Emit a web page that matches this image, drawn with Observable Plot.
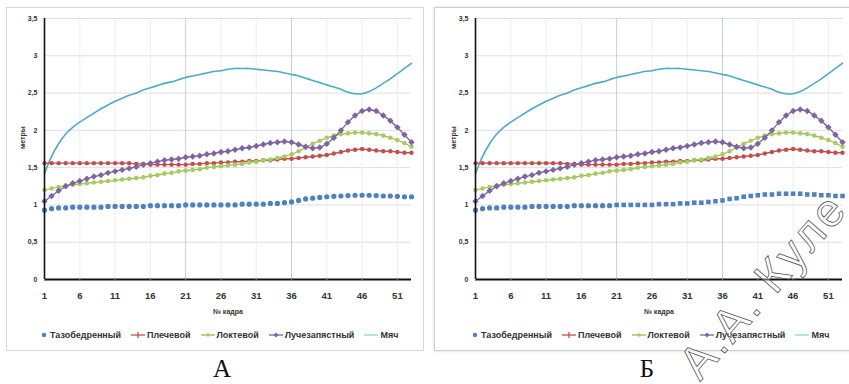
<!DOCTYPE html>
<html><head><meta charset="utf-8">
<script src="https://cdn.jsdelivr.net/npm/d3@7"></script>
<script src="https://cdn.jsdelivr.net/npm/@observablehq/plot@0.6"></script>
<style>
html,body{margin:0;padding:0;background:#fff;}
#wrap{position:relative;width:849px;height:384px;overflow:hidden;background:#fff;font-family:"Liberation Sans Narrow","Liberation Sans",Arial,sans-serif;}
.panel{position:absolute;top:8px;width:416px;height:342px;}
#pA{left:7px;outline:1px solid #d6d6d6;}
#pB{left:435px;outline:1px solid #cfcfcf;box-shadow:0 0 3px 1px #d8d8d8;}
.panel svg{position:absolute;left:0;top:0;}
.legend{position:absolute;top:322px;left:0;display:flex;align-items:center;font-size:9px;font-weight:bold;color:#333;white-space:nowrap;}
.legend .it{display:flex;align-items:center;margin-right:10px;}
.legend svg{position:static;margin-right:2px;}
.cap{position:absolute;top:355px;font-family:"Liberation Serif","DejaVu Serif",serif;font-size:25px;color:#111;transform:translateX(-50%);}
#wm{position:absolute;left:0;top:0;}
</style></head>
<body><div id="wrap">
<div class="panel" id="pA"></div>
<div class="panel" id="pB"></div>
<div class="cap" style="left:222px">А</div>
<div class="cap" style="left:647px">Б</div>
</div>
<script>
const frames = [1,2,3,4,5,6,7,8,9,10,11,12,13,14,15,16,17,18,19,20,21,22,23,24,25,26,27,28,29,30,31,32,33,34,35,36,37,38,39,40,41,42,43,44,45,46,47,48,49,50,51,52,53];
const xTicks = [1,6,11,16,21,26,31,36,41,46,51];
const yTicks = [0,0.5,1,1.5,2,2.5,3,3.5];
const seriesNames = ["Тазобедренный","Плечевой","Локтевой","Лучезапястный","Мяч"];
const colors = ["#4f81bd","#c0504d","#9bbb59","#8064a2","#4bacc6"];

const hipA = [0.93,0.95,0.96,0.96,0.97,0.97,0.97,0.97,0.97,0.98,0.98,0.98,0.98,0.98,0.98,0.99,0.99,0.99,0.99,0.99,1.0,1.0,1.0,1.0,1.0,1.0,1.0,1.0,1.01,1.01,1.01,1.01,1.02,1.02,1.03,1.04,1.06,1.08,1.09,1.10,1.11,1.115,1.12,1.125,1.13,1.13,1.13,1.125,1.12,1.12,1.115,1.11,1.11];
const hipB = [0.93,0.95,0.96,0.96,0.97,0.97,0.97,0.97,0.98,0.98,0.98,0.98,0.98,0.98,0.99,0.99,0.99,0.99,0.99,0.99,1.0,1.0,1.0,1.0,1.0,1.0,1.01,1.01,1.01,1.02,1.02,1.03,1.03,1.04,1.05,1.06,1.08,1.09,1.11,1.12,1.13,1.14,1.14,1.15,1.15,1.15,1.15,1.14,1.14,1.13,1.13,1.12,1.12];
const shoulder = [1.56,1.56,1.56,1.56,1.56,1.56,1.56,1.56,1.56,1.56,1.56,1.56,1.56,1.55,1.55,1.54,1.54,1.54,1.54,1.54,1.54,1.55,1.55,1.56,1.56,1.57,1.57,1.58,1.58,1.59,1.59,1.60,1.60,1.61,1.62,1.62,1.63,1.64,1.65,1.66,1.67,1.69,1.71,1.73,1.74,1.75,1.74,1.73,1.72,1.72,1.71,1.70,1.70];
const elbow = [1.20,1.22,1.24,1.26,1.27,1.28,1.29,1.30,1.31,1.32,1.33,1.34,1.35,1.36,1.37,1.39,1.40,1.42,1.43,1.45,1.46,1.47,1.48,1.50,1.51,1.52,1.53,1.54,1.55,1.57,1.58,1.60,1.61,1.63,1.65,1.68,1.72,1.77,1.82,1.86,1.90,1.93,1.95,1.96,1.97,1.97,1.96,1.95,1.93,1.90,1.87,1.83,1.78];
const wrist = [1.05,1.12,1.19,1.25,1.29,1.32,1.35,1.38,1.40,1.43,1.45,1.47,1.49,1.51,1.54,1.56,1.58,1.60,1.61,1.62,1.64,1.65,1.66,1.68,1.69,1.71,1.72,1.74,1.76,1.77,1.79,1.81,1.83,1.84,1.85,1.84,1.81,1.78,1.76,1.77,1.82,1.90,2.00,2.11,2.20,2.26,2.28,2.26,2.20,2.13,2.04,1.94,1.84];
const ball = [1.42,1.65,1.82,1.95,2.04,2.11,2.17,2.23,2.29,2.34,2.39,2.43,2.47,2.50,2.54,2.57,2.60,2.63,2.65,2.68,2.71,2.73,2.75,2.77,2.79,2.80,2.82,2.83,2.83,2.83,2.82,2.81,2.80,2.79,2.77,2.75,2.73,2.70,2.67,2.64,2.61,2.58,2.55,2.51,2.49,2.49,2.52,2.57,2.63,2.69,2.76,2.83,2.90];

const rows = vals => frames.map((f,i)=>({f, v: vals[i]}));
const fmt = d => String(d).replace(".", ",");

function makePanel(el, hip, mL, mR, squaresFrom) {
  const hipRows = rows(hip);
  const plot = Plot.plot({
    width: 416, height: 342,
    marginLeft: mL, marginRight: mR, marginTop: 10, marginBottom: 71,
    style: {fontFamily: '"Liberation Sans Narrow","Liberation Sans",Arial,sans-serif', background: "transparent", color: "#333"},
    x: {domain: [1, 53]},
    y: {domain: [0, 3.5]},
    marks: [
      Plot.ruleY(yTicks.slice(1), {stroke: "#dedede", strokeWidth: 1}),
      Plot.ruleX([6,11,16,26,31,41,46,51], {stroke: "#eeeeee"}),
      Plot.ruleX([21,36], {stroke: "#c5cde0"}),
      Plot.line(rows(ball), {x: "f", y: "v", stroke: colors[4], strokeWidth: 1.6, curve: "catmull-rom"}),
      Plot.line(rows(shoulder), {x: "f", y: "v", stroke: colors[1], strokeWidth: 1.4}),
      Plot.dot(rows(shoulder), {x: "f", y: "v", fill: colors[1], r: 2.2}),
      Plot.line(rows(elbow), {x: "f", y: "v", stroke: colors[2], strokeWidth: 1.2}),
      Plot.dot(rows(elbow), {x: "f", y: "v", fill: "#a9cc5e", r: 2.3}),
      Plot.line(rows(wrist), {x: "f", y: "v", stroke: colors[3], strokeWidth: 1.4}),
      Plot.dot(rows(wrist), {x: "f", y: "v", fill: colors[3], r: 2.9, symbol: "diamond2"}),
      Plot.dot(hipRows.filter(d => d.f < squaresFrom), {x: "f", y: "v", fill: colors[0], r: 2.6}),
      Plot.dot(hipRows.filter(d => d.f >= squaresFrom), {x: "f", y: "v", fill: colors[0], r: 2.9, symbol: "square2"}),
      Plot.ruleX([1], {stroke: "#111", strokeWidth: 1.6}),
      Plot.ruleY([0], {stroke: "#111", strokeWidth: 2.2}),
      Plot.axisY({ticks: yTicks, tickSize: 0, tickPadding: 7, fontSize: 7, fontWeight: "bold", tickFormat: fmt, label: null}),
      Plot.axisX({ticks: xTicks, tickSize: 2, tickPadding: 11, fontSize: 9.5, fontWeight: "bold", tickFormat: d => d, label: null, stroke: "#888"}),
      Plot.text(["№ кадра"], {frameAnchor: "bottom", dy: 34, fontSize: 7, fontWeight: "bold", fill: "#333"}),
      Plot.text(["метры"], {frameAnchor: "left", dx: -22, dy: 0, rotate: -90, fontSize: 7, fontWeight: "bold", fill: "#333"})
    ]
  });
  el.appendChild(plot);
  const lg = document.createElement("div");
  lg.className = "legend";
  lg.style.left = (mL - 4) + "px";
  const marker = [
    '<svg width="8" height="8"><circle cx="4" cy="4" r="2.2" fill="'+colors[0]+'"/></svg>',
    '<svg width="14" height="8"><line x1="0" y1="4" x2="14" y2="4" stroke="'+colors[1]+'" stroke-width="1.3"/><line x1="7" y1="1" x2="7" y2="7" stroke="'+colors[1]+'" stroke-width="1.3"/></svg>',
    '<svg width="14" height="8"><line x1="0" y1="4" x2="14" y2="4" stroke="'+colors[2]+'" stroke-width="1.3"/><circle cx="7" cy="4" r="1.8" fill="#a9cc5e"/></svg>',
    '<svg width="14" height="8"><line x1="0" y1="4" x2="14" y2="4" stroke="'+colors[3]+'" stroke-width="1.3"/><path d="M7,1.5L9.5,4L7,6.5L4.5,4Z" fill="'+colors[3]+'"/></svg>',
    '<svg width="14" height="8"><line x1="0" y1="4" x2="14" y2="4" stroke="#8fd3df" stroke-width="1.3"/></svg>'
  ];
  lg.innerHTML = seriesNames.map((n,i)=>'<span class="it">'+marker[i]+'<span>'+n+'</span></span>').join("");
  el.appendChild(lg);
}

makePanel(document.getElementById("pA"), hipA, 37, 12, 999);
makePanel(document.getElementById("pB"), hipB, 40, 9, 21);

const ns = "http://www.w3.org/2000/svg";
const wm = document.createElementNS(ns, "svg");
wm.setAttribute("id","wm"); wm.setAttribute("width","849"); wm.setAttribute("height","384");
const t = document.createElementNS(ns, "text");
t.setAttribute("transform","translate(700,382) rotate(-49)");
t.setAttribute("font-size","46");
t.setAttribute("letter-spacing","3");
t.setAttribute("font-family","Liberation Sans Narrow, Liberation Sans, Arial, sans-serif");
t.setAttribute("fill","rgba(255,255,255,0.35)");
t.setAttribute("stroke","#444");
t.setAttribute("stroke-width","0.7");
t.textContent = "А.А. Куле";
wm.appendChild(t);
document.getElementById("wrap").appendChild(wm);
</script>
</body></html>
